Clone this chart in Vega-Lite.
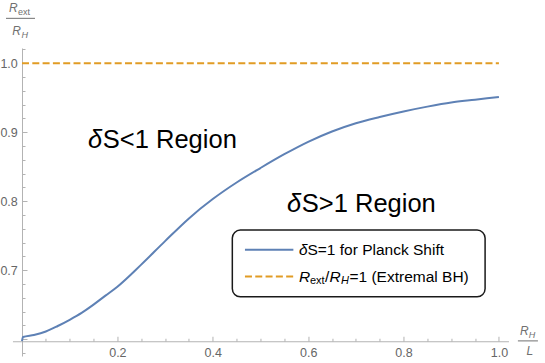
{
  "$schema": "https://vega.github.io/schema/vega-lite/v6.json",
  "width": 496,
  "height": 308,
  "autosize": "none",
  "padding": {"left": 12.46, "top": 48, "right": 36.54, "bottom": 7},
  "background": "white",
  "config": {"view": {"stroke": null}, "text": {"font": "Liberation Sans"}},
  "encoding": {
    "x": {
      "field": "x", "type": "quantitative",
      "scale": {"domain": [-0.02, 1.02], "nice": false, "zero": false},
      "axis": {
        "orient": "bottom", "offset": -14.75, "title": null, "grid": false,
        "values": [0.05, 0.1, 0.15, 0.2, 0.25, 0.3, 0.35, 0.4, 0.45, 0.5, 0.55, 0.6, 0.65, 0.7, 0.75, 0.8, 0.85, 0.9, 0.95, 1],
        "labelExpr": "indexof([0.2,0.4,0.6,0.8,1],datum.value)>=0 ? format(datum.value,'.1f') : ''",
        "domainColor": "#b3b3b3", "domainWidth": 1,
        "tickColor": "#b3b3b3", "tickWidth": 1,
        "tickSize": {"condition": {"test": "indexof([0.2,0.4,0.6,0.8,1],datum.value)>=0", "value": -5}, "value": -3},
        "labelPadding": 10.5, "labelFont": "Liberation Sans", "labelFontSize": 12.5, "labelColor": "#666666",
        "labelFlush": false, "labelOverlap": false
      }
    },
    "y": {
      "field": "y", "type": "quantitative",
      "scale": {"domain": [0.5755, 1.022], "nice": false, "zero": false},
      "axis": {
        "orient": "left", "offset": -9.54, "title": null, "grid": false,
        "values": [0.58, 0.6, 0.62, 0.64, 0.66, 0.68, 0.7, 0.72, 0.74, 0.76, 0.78, 0.8, 0.82, 0.84, 0.86, 0.88, 0.9, 0.92, 0.94, 0.96, 0.98, 1, 1.02],
        "labelExpr": "indexof([0.7,0.8,0.9,1],datum.value)>=0 ? format(datum.value,'.1f') : ''",
        "domainColor": "#b3b3b3", "domainWidth": 1,
        "tickColor": "#b3b3b3", "tickWidth": 1,
        "tickSize": {"condition": {"test": "indexof([0.6,0.7,0.8,0.9,1],datum.value)>=0", "value": -5}, "value": -3},
        "labelPadding": 9.7, "labelFont": "Liberation Sans", "labelFontSize": 12.5, "labelColor": "#666666",
        "labelFlush": false, "labelOverlap": false
      }
    }
  },
  "layer": [
    {
      "data": {"values": [
        {"x": 0, "y": 0.597}, {"x": 0.002, "y": 0.603}, {"x": 0.025, "y": 0.606}, {"x": 0.05, "y": 0.611},
        {"x": 0.075, "y": 0.619}, {"x": 0.1, "y": 0.628}, {"x": 0.125, "y": 0.638}, {"x": 0.15, "y": 0.65},
        {"x": 0.175, "y": 0.663}, {"x": 0.2, "y": 0.676}, {"x": 0.25, "y": 0.708}, {"x": 0.3, "y": 0.742},
        {"x": 0.35, "y": 0.775}, {"x": 0.4, "y": 0.803}, {"x": 0.45, "y": 0.827}, {"x": 0.5, "y": 0.848},
        {"x": 0.55, "y": 0.868}, {"x": 0.6, "y": 0.886}, {"x": 0.65, "y": 0.901}, {"x": 0.7, "y": 0.913},
        {"x": 0.75, "y": 0.922}, {"x": 0.8, "y": 0.93}, {"x": 0.85, "y": 0.937}, {"x": 0.9, "y": 0.943},
        {"x": 0.95, "y": 0.947}, {"x": 1, "y": 0.951}
      ]},
      "mark": {"type": "line", "color": "#5E81B5", "strokeWidth": 2, "interpolate": "monotone"}
    },
    {
      "data": {"values": [{"x": 0, "x2": 1, "y": 1}]},
      "mark": {"type": "rule", "color": "#E19C24", "strokeWidth": 2, "strokeDash": [7, 3.3]},
      "encoding": {"x2": {"field": "x2"}}
    },
    {
      "data": {"values": [{"x": 0.441, "x2": 0.971, "y": 0.758, "y2": 0.6613}]},
      "mark": {"type": "rect", "fill": "white", "stroke": "#1a1a1a", "strokeWidth": 1.5, "cornerRadius": 8},
      "encoding": {"x2": {"field": "x2"}, "y2": {"field": "y2"}}
    },
    {
      "data": {"values": [{"x": 0.4675, "x2": 0.569, "y": 0.7297}]},
      "mark": {"type": "rule", "color": "#5E81B5", "strokeWidth": 2},
      "encoding": {"x2": {"field": "x2"}}
    },
    {
      "data": {"values": [{"x": 0.4675, "x2": 0.569, "y": 0.6906}]},
      "mark": {"type": "rule", "color": "#E19C24", "strokeWidth": 2, "strokeDash": [7, 3.3]},
      "encoding": {"x2": {"field": "x2"}}
    },
    {
      "data": {"values": [
        {"t": "δ", "x": 0.5807, "y": 0.7297},
        {"t": "R", "x": 0.5807, "y": 0.6906},
        {"t": "R", "x": 0.6447, "y": 0.6906}
      ]},
      "mark": {"type": "text", "fontSize": 15.5, "fontStyle": "italic", "align": "left", "baseline": "middle", "color": "black"},
      "encoding": {"text": {"field": "t"}}
    },
    {
      "data": {"values": [
        {"t": "S=1 for Planck Shift", "x": 0.5985, "y": 0.7297},
        {"t": "/", "x": 0.6352, "y": 0.6906},
        {"t": "=1 (Extremal BH)", "x": 0.6866, "y": 0.6906}
      ]},
      "mark": {"type": "text", "fontSize": 15.5, "align": "left", "baseline": "middle", "color": "black"},
      "encoding": {"text": {"field": "t"}}
    },
    {
      "data": {"values": [{"t": "ext", "x": 0.6038, "y": 0.6848}]},
      "mark": {"type": "text", "fontSize": 11, "align": "left", "baseline": "middle", "color": "black"},
      "encoding": {"text": {"field": "t"}}
    },
    {
      "data": {"values": [{"t": "H", "x": 0.6688, "y": 0.6848}]},
      "mark": {"type": "text", "fontSize": 11, "fontStyle": "italic", "align": "left", "baseline": "middle", "color": "black"},
      "encoding": {"text": {"field": "t"}}
    },
    {
      "data": {"values": [
        {"t": "δ", "x": 0.1384, "y": 0.8766},
        {"t": "δ", "x": 0.5556, "y": 0.7848}
      ]},
      "mark": {"type": "text", "fontSize": 25.5, "fontStyle": "italic", "align": "left", "baseline": "alphabetic", "color": "black"},
      "encoding": {"text": {"field": "t"}}
    },
    {
      "data": {"values": [
        {"t": "S<1 Region", "x": 0.1695, "y": 0.8766},
        {"t": "S>1 Region", "x": 0.5867, "y": 0.7848}
      ]},
      "mark": {"type": "text", "fontSize": 25.5, "align": "left", "baseline": "alphabetic", "color": "black"},
      "encoding": {"text": {"field": "t"}}
    },
    {
      "data": {"values": [
        {"x": -0.03354, "x2": 0.02725, "y": 1.065},
        {"x": 1.0398, "x2": 1.0818, "y": 0.5974}
      ]},
      "mark": {"type": "rule", "color": "#707070", "strokeWidth": 1},
      "encoding": {"x2": {"field": "x2"}}
    },
    {
      "data": {"values": [
        {"t": "R", "x": -0.02725, "y": 1.0742},
        {"t": "R", "x": -0.02034, "y": 1.0408},
        {"t": "R", "x": 1.044, "y": 0.6061},
        {"t": "L", "x": 1.0577, "y": 0.5771}
      ]},
      "mark": {"type": "text", "fontSize": 12, "fontStyle": "italic", "align": "left", "baseline": "alphabetic", "color": "#707070"},
      "encoding": {"text": {"field": "t"}}
    },
    {
      "data": {"values": [{"t": "ext", "x": -0.00839, "y": 1.0698}]},
      "mark": {"type": "text", "fontSize": 9, "align": "left", "baseline": "alphabetic", "color": "#707070"},
      "encoding": {"text": {"field": "t"}}
    },
    {
      "data": {"values": [
        {"t": "H", "x": -0.00105, "y": 1.0365},
        {"t": "H", "x": 1.0623, "y": 0.6017}
      ]},
      "mark": {"type": "text", "fontSize": 9, "fontStyle": "italic", "align": "left", "baseline": "alphabetic", "color": "#707070"},
      "encoding": {"text": {"field": "t"}}
    }
  ]
}
